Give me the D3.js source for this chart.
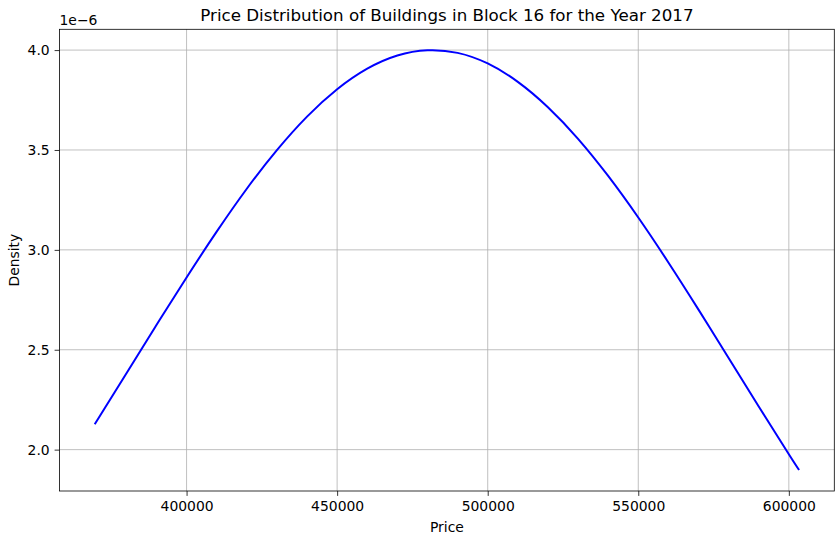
<!DOCTYPE html>
<html>
<head>
<meta charset="utf-8">
<script src="https://cdn.jsdelivr.net/npm/d3@7"></script>
<style>
  body { margin: 0; background: #fff; }
  svg { display: block; font-family: "DejaVu Sans", sans-serif; }
</style>
</head>
<body>
<svg width="839" height="536"></svg>
<script>
// points (price, density in 1e-6)
const prices = [369500, 380000, 390000, 400000, 410000, 420000, 430000, 440000, 450000,
  460000, 470000, 480000, 490000, 500000, 510000, 520000, 530000, 540000, 550000,
  560000, 570000, 580000, 590000, 600000, 603400];
const density = [2.127, 2.381, 2.624, 2.862, 3.091, 3.306, 3.499, 3.667, 3.804,
  3.907, 3.973, 3.999, 3.986, 3.933, 3.841, 3.714, 3.556, 3.370, 3.162,
  2.937, 2.701, 2.459, 2.216, 1.977, 1.898];
const xTicks = [400000, 450000, 500000, 550000, 600000];
const yTicks = [2.0, 2.5, 3.0, 3.5, 4.0];

const width = 839, height = 536;
const margin = {top: 29.3, right: 4.7, bottom: 45, left: 59.5};

const svg = d3.select("svg");
const data = prices.map((p, i) => ({x: p, y: density[i]}));

// matplotlib style 5% margins
const pad = (ext) => { const d = (ext[1] - ext[0]) * 0.05; return [ext[0] - d, ext[1] + d]; };

const x = d3.scaleLinear()
  .domain(pad(d3.extent(prices)))
  .range([margin.left, width - margin.right]);
const y = d3.scaleLinear()
  .domain(pad(d3.extent(density)))
  .range([height - margin.bottom, margin.top]);

// grid
svg.append("g")
  .selectAll("line.vx")
  .data(xTicks)
  .enter().append("line")
  .attr("x1", d => x(d)).attr("x2", d => x(d))
  .attr("y1", margin.top).attr("y2", height - margin.bottom)
  .attr("stroke", "#b0b0b0").attr("stroke-width", 0.8);
svg.append("g")
  .selectAll("line.hy")
  .data(yTicks)
  .enter().append("line")
  .attr("y1", d => y(d)).attr("y2", d => y(d))
  .attr("x1", margin.left).attr("x2", width - margin.right)
  .attr("stroke", "#b0b0b0").attr("stroke-width", 0.8);

// curve
const line = d3.line()
  .x(d => x(d.x))
  .y(d => y(d.y))
  .curve(d3.curveNatural);

svg.append("path")
  .datum(data)
  .attr("fill", "none")
  .attr("stroke", "blue")
  .attr("stroke-width", 2)
  .attr("d", line);

// axes
const xAxis = svg.append("g")
  .attr("transform", `translate(0,${height - margin.bottom})`)
  .call(d3.axisBottom(x).tickValues(xTicks).tickFormat(d3.format("d")).tickSize(4.9).tickPadding(4.9));
const yAxis = svg.append("g")
  .attr("transform", `translate(${margin.left},0)`)
  .call(d3.axisLeft(y).tickValues(yTicks).tickFormat(d3.format(".1f")).tickSize(4.9).tickPadding(4.9));

[xAxis, yAxis].forEach(a => {
  a.select(".domain").remove();
  a.selectAll("line").attr("stroke", "#000").attr("stroke-width", 0.8);
  a.selectAll("text").attr("font-size", 13.9).attr("fill", "#000")
    .attr("font-family", "DejaVu Sans, sans-serif");
});

// frame
svg.append("rect")
  .attr("x", margin.left).attr("y", margin.top)
  .attr("width", width - margin.left - margin.right)
  .attr("height", height - margin.top - margin.bottom)
  .attr("fill", "none").attr("stroke", "#000").attr("stroke-width", 0.8);

// labels
svg.append("text")
  .attr("x", (margin.left + width - margin.right) / 2)
  .attr("y", 21)
  .attr("text-anchor", "middle")
  .attr("font-size", 16.7)
  .text("Price Distribution of Buildings in Block 16 for the Year 2017");

svg.append("text")
  .attr("x", (margin.left + width - margin.right) / 2)
  .attr("y", 532)
  .attr("text-anchor", "middle")
  .attr("font-size", 13.9)
  .text("Price");

svg.append("text")
  .attr("transform", `translate(19,${(margin.top + height - margin.bottom) / 2}) rotate(-90)`)
  .attr("text-anchor", "middle")
  .attr("font-size", 13.9)
  .text("Density");

svg.append("text")
  .attr("x", margin.left)
  .attr("y", 25)
  .attr("font-size", 13.9)
  .text("1e\u22126");
</script>
</body>
</html>
